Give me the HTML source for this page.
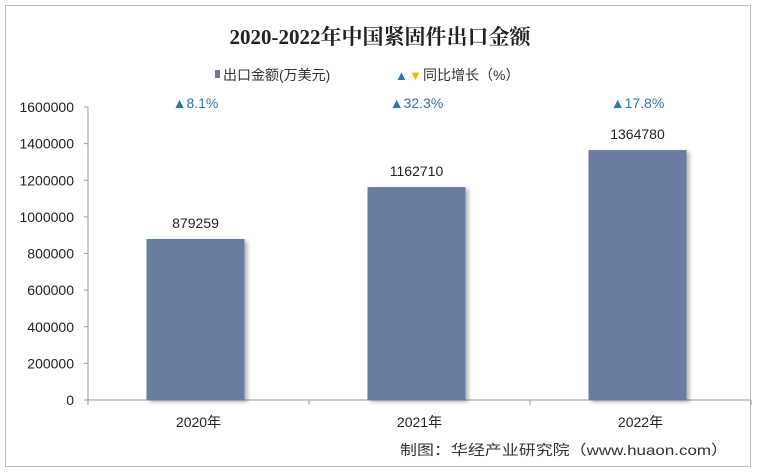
<!DOCTYPE html>
<html><head><meta charset="utf-8"><style>
body{margin:0;background:#fff;font-family:"Liberation Sans","Noto Sans CJK SC",sans-serif}
#frame{position:absolute;left:5px;top:5px;width:746px;height:462px;border:1px solid #bbb;box-sizing:border-box}
</style></head><body>
<div id="frame"></div>
<svg width="760" height="475" style="position:absolute;left:0;top:0">
<defs><filter id="sh" x="-10%" y="-10%" width="130%" height="130%"><feDropShadow dx="3" dy="2" stdDeviation="2" flood-color="#000" flood-opacity="0.3"/></filter></defs>
<text x="380" y="44" text-anchor="middle" font-size="21" font-weight="bold" fill="#222" font-family="Liberation Serif,Noto Serif CJK SC,serif">2020-2022年中国紧固件出口金额</text>
<g font-size="14" fill="#333">
<rect x="215" y="70" width="5" height="8" fill="#6A7BA2"/>
<text x="223" y="80">出口金额(万美元)</text>
<text x="395" y="80" fill="#2E75A6" font-size="13">▲</text>
<text x="409" y="80" fill="#F2B705" font-size="13">▼</text>
<text x="423" y="80">同比增长（%）</text>
</g>
<g id="axes"></g><g id="marks"></g>
<text x="400" y="455" font-size="14" fill="#333" textLength="328" lengthAdjust="spacingAndGlyphs">制图：华经产业研究院（www.huaon.com）</text>
</svg>
<script>
const categories=["2020年","2021年","2022年"];
const values=[879259,1162710,1364780];
const growth=["8.1%","32.3%","17.8%"];
const ticks=[0,200000,400000,600000,800000,1000000,1200000,1400000,1600000];
const NS="http://www.w3.org/2000/svg";
const x0=88,x1=751,yB=400,yT=107,max=1600000;
const bw=(x1-x0)/categories.length;
const y=v=>yB-(v/max)*(yB-yT);
const cx=i=>x0+bw*(i+0.5);
function mk(t,a,p){const e=document.createElementNS(NS,t);for(const k in a)e.setAttribute(k,a[k]);p.appendChild(e);return e;}
const ax=document.getElementById('axes'),mg=document.getElementById('marks');
const yl=mk('line',{x1:x0,x2:x0,y1:yT,y2:yB,stroke:'#999'},ax);


const xl=mk('line',{x1:x0,x2:x1,y1:yB,y2:yB,stroke:'#999'},ax);


ticks.forEach(t=>{
 mk('line',{x1:x0-4,x2:x0,y1:y(t),y2:y(t),stroke:'#999'},ax);
 const tx=mk('text',{x:x0-14,y:y(t)+5,'text-anchor':'end','font-size':14,fill:'#222'},ax);
 tx.textContent=t;
 
 
});
for(let i=0;i<=categories.length;i++)mk('line',{x1:x0+bw*i,x2:x0+bw*i,y1:yB,y2:yB+5,stroke:'#999'},ax);
categories.forEach((c,i)=>{
 const r=mk('rect',{x:cx(i)-52,y:y(values[i]),width:98,height:yB-y(values[i]),fill:'#6A7BA2',filter:'url(#sh)'},mg);
 
 
 const v=mk('text',{x:cx(i)-3,y:y(values[i])-11,'text-anchor':'middle','font-size':14,fill:'#222'},mg);
 v.textContent=values[i];
 
 
 const g=mk('text',{x:cx(i)-3,y:108,'text-anchor':'middle','font-size':14,fill:'#2E75A6'},mg);
 g.textContent='▲'+growth[i];
 
 
 const l=mk('text',{x:cx(i),y:427,'text-anchor':'middle','font-size':14,fill:'#222'},mg);
 l.textContent=c;
 
 
});
</script>
</body></html>
